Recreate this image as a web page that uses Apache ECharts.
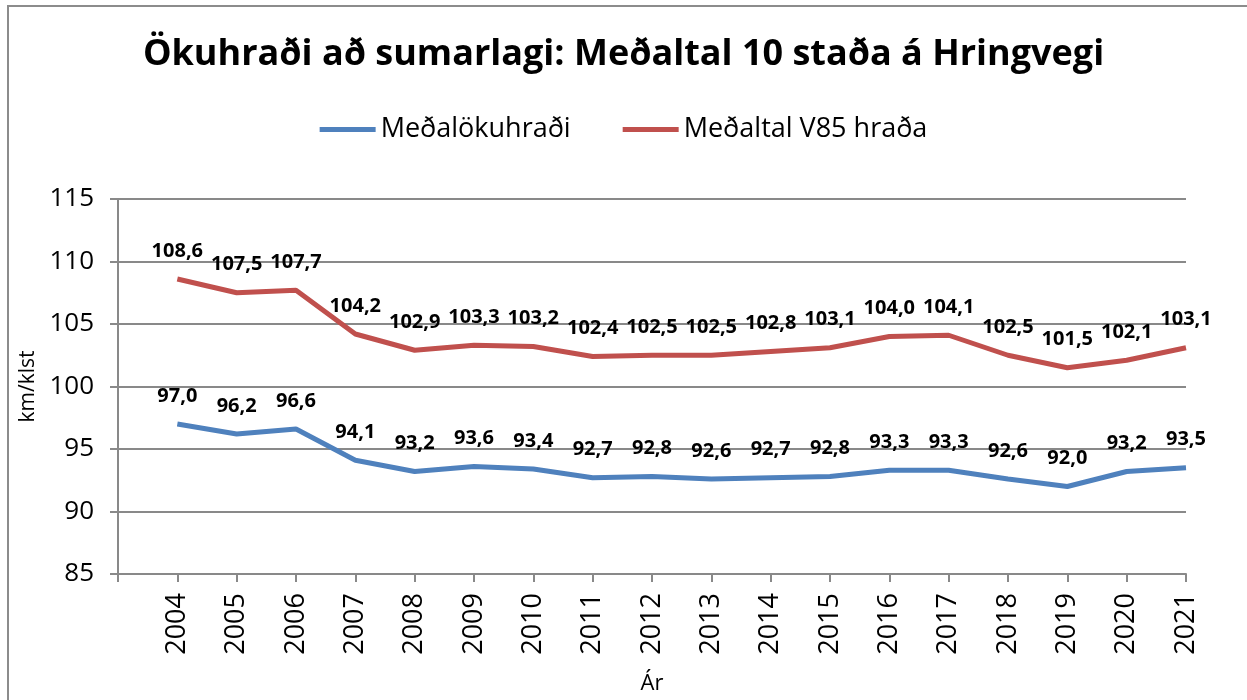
<!DOCTYPE html>
<html>
<head>
<meta charset="utf-8">
<script src="https://cdn.jsdelivr.net/npm/echarts@6/dist/echarts.min.js"></script>
<style>
html, body { margin: 0; padding: 0; background: #fff; }
#chart { width: 1247px; height: 700px; position: relative; }
#frame {
	position: absolute; left: 7px; top: 5px; width: 1250px; height: 710px;
	border: 2px solid #8c8c8c; box-sizing: border-box; pointer-events: none;
}
</style>
</head>
<body>
<div id="chart"></div>
<div id="frame"></div>
<script>
// ár
const years = [2004, 2005, 2006, 2007, 2008, 2009, 2010, 2011, 2012, 2013, 2014, 2015, 2016, 2017, 2018, 2019, 2020, 2021];
// Meðalökuhraði
const avgSpeed = [97.0, 96.2, 96.6, 94.1, 93.2, 93.6, 93.4, 92.7, 92.8, 92.6, 92.7, 92.8, 93.3, 93.3, 92.6, 92.0, 93.2, 93.5];
// Meðaltal V85 hraða
const v85Speed = [108.6, 107.5, 107.7, 104.2, 102.9, 103.3, 103.2, 102.4, 102.5, 102.5, 102.8, 103.1, 104.0, 104.1, 102.5, 101.5, 102.1, 103.1];

const font = '"Open Sans", "Noto Sans", sans-serif';
const axisGrey = '#898989';

const pairs = arr => arr.map((v, i) => [years[i], v]);
const fmt = p => p.value[1].toFixed(1).replace('.', ',');

// gagnamerki fyrir báðar línur
const dataLabel = {
	show: true,
	position: 'top',
	distance: 18,
	formatter: fmt,
	fontFamily: font,
	fontSize: 20,
	fontWeight: 'bold',
	color: '#000',
};

const myChart = echarts.init(document.getElementById('chart'));
myChart.setOption({
	backgroundColor: '#fff',
	animation: false,
	textStyle: { fontFamily: font },
	title: {
		text: 'Ökuhraði að sumarlagi: Meðaltal 10 staða á Hringvegi',
		left: 'center',
		top: 32,
		textStyle: { fontFamily: font, fontSize: 36, fontWeight: 'bold', color: '#000' },
	},
	legend: {
		top: 111,
		left: 'center',
		itemWidth: 56,
		itemHeight: 5,
		itemGap: 52,
		icon: 'rect',
		textStyle: { fontFamily: font, fontSize: 27, color: '#000' },
		data: ['Meðalökuhraði', 'Meðaltal V85 hraða'],
	},
	grid: { left: 118, right: 61, top: 199, bottom: 123 },
	xAxis: {
		type: 'value',
		min: 2003,
		max: 2021,
		interval: 1,
		name: 'Ár',
		nameLocation: 'middle',
		nameGap: 99,
		nameTextStyle: { fontFamily: font, fontSize: 22, color: '#000' },
		axisLine: { lineStyle: { color: axisGrey, width: 2 } },
		axisTick: { show: true, length: 8, lineStyle: { color: axisGrey, width: 2 } },
		axisLabel: {
			rotate: 90,
			margin: 19,
			fontFamily: font,
			fontSize: 27,
			color: '#000',
			formatter: v => (v === 2003 ? '' : String(v)),
		},
		splitLine: { show: false },
	},
	yAxis: {
		type: 'value',
		min: 85,
		max: 115,
		interval: 5,
		name: 'km/klst',
		nameLocation: 'middle',
		nameGap: 77,
		nameTextStyle: { fontFamily: font, fontSize: 21, color: '#000' },
		axisLine: { show: true, lineStyle: { color: axisGrey, width: 2 } },
		axisTick: { show: true, length: 8, lineStyle: { color: axisGrey, width: 2 } },
		axisLabel: { margin: 24, fontFamily: font, fontSize: 26, color: '#000' },
		splitLine: { lineStyle: { color: axisGrey, width: 2 } },
	},
	series: [
		{
			name: 'Meðalökuhraði',
			type: 'line',
			data: pairs(avgSpeed),
			symbol: 'circle',
			symbolSize: 0,
			lineStyle: { color: '#4f81bd', width: 5 },
			itemStyle: { color: '#4f81bd' },
			label: dataLabel,
		},
		{
			name: 'Meðaltal V85 hraða',
			type: 'line',
			data: pairs(v85Speed),
			symbol: 'circle',
			symbolSize: 0,
			lineStyle: { color: '#c0504d', width: 5 },
			itemStyle: { color: '#c0504d' },
			label: dataLabel,
		},
	],
});
</script>
</body>
</html>
